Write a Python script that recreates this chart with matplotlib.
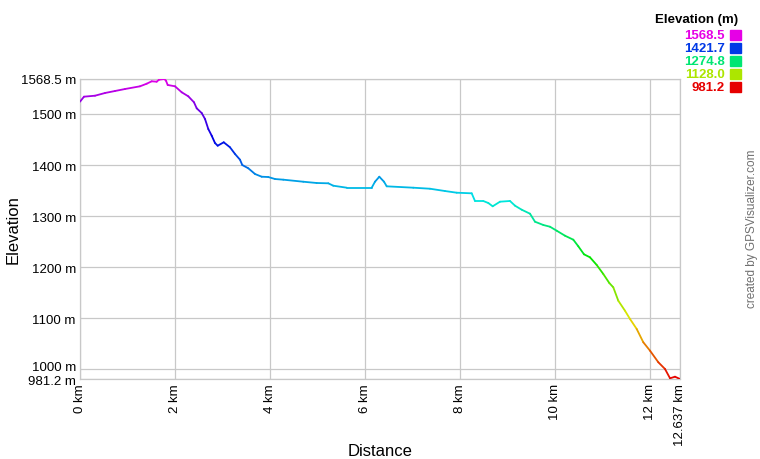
import numpy as np
import matplotlib
matplotlib.use('Agg')
import matplotlib.pyplot as plt
import matplotlib.transforms as mtrans
from matplotlib.collections import LineCollection
from matplotlib.colors import hsv_to_rgb

plt.rcParams['font.family'] = ['Liberation Sans', 'DejaVu Sans']

# perfil (km, m)
distancia = [0.000, 0.084, 0.316, 0.527, 0.737, 0.948, 1.264, 1.405, 1.510, 1.615,
             1.664, 1.775, 1.811, 1.847, 2.001, 2.142, 2.281, 2.401, 2.458, 2.563,
             2.633, 2.702, 2.774, 2.843, 2.900, 3.027, 3.159, 3.265, 3.370, 3.418,
             3.545, 3.686, 3.827, 3.966, 4.107, 4.282, 4.703, 4.985, 5.230, 5.335,
             5.617, 6.144, 6.213, 6.304, 6.403, 6.460, 7.020, 7.371, 7.687, 7.934,
             8.250, 8.319, 8.494, 8.600, 8.692, 8.846, 9.056, 9.162, 9.303, 9.478,
             9.583, 9.758, 9.899, 10.040, 10.215, 10.390, 10.495, 10.615, 10.741, 10.883,
             11.021, 11.148, 11.232, 11.337, 11.478, 11.584, 11.725, 11.864, 12.005, 12.180,
             12.321, 12.427, 12.532, 12.637]
elevacion = [1524.1, 1533.9, 1535.8, 1541.1, 1545.0, 1548.9, 1554.2, 1559.3, 1564.0, 1563.2,
             1567.1, 1568.5, 1565.2, 1556.8, 1554.2, 1542.5, 1534.6, 1522.9, 1511.1, 1501.9,
             1490.2, 1470.6, 1457.5, 1443.2, 1437.9, 1444.6, 1434.8, 1421.7, 1410.5, 1400.1,
             1393.7, 1382.5, 1377.2, 1376.6, 1372.7, 1371.4, 1367.4, 1364.9, 1364.3, 1359.6,
             1355.7, 1355.7, 1367.4, 1377.2, 1367.4, 1358.4, 1355.7, 1353.7, 1349.2, 1345.9,
             1344.7, 1329.7, 1329.7, 1325.7, 1319.3, 1328.3, 1329.7, 1320.5, 1312.6, 1304.8,
             1289.1, 1282.7, 1279.3, 1271.5, 1261.7, 1253.9, 1241.0, 1225.3, 1219.4, 1204.4,
             1186.8, 1169.1, 1160.7, 1134.5, 1114.9, 1098.7, 1079.1, 1053.1, 1036.7, 1014.0,
             1000.8, 982.6, 985.7, 981.2]

elev_min = 981.2
elev_max = 1568.5
dist_total = 12.637
ticks_x = [0, 2, 4, 6, 8, 10, 12, 12.637]
etiquetas_x = ['0 km', '2 km', '4 km', '6 km', '8 km', '10 km', '12 km', '12.637 km']
ticks_y = [981.2, 1000, 1100, 1200, 1300, 1400, 1500, 1568.5]
etiquetas_y = ['981.2 m', '1000 m', '1100 m', '1200 m', '1300 m', '1400 m', '1500 m', '1568.5 m']
leyenda = ['1568.5', '1421.7', '1274.8', '1128.0', '981.2']
niveles = [1568.5, 1421.7, 1274.8, 1128.0, 981.2]


def color_elev(e):
    # rojo (bajo) -> magenta (alto) recorriendo el tono
    f = (e - elev_min) / (elev_max - elev_min)
    f = min(max(f, 0), 1)
    return hsv_to_rgb([f * 300 / 360, 1.0, 0.9])


fig = plt.figure(figsize=(7.6, 4.6), dpi=100)
ax = fig.add_axes([80 / 760, 80 / 460, 600 / 760, 300 / 460])

x = np.array(distancia)
y = np.array(elevacion)
pts = np.column_stack([x, y]).reshape(-1, 1, 2)
segs = np.concatenate([pts[:-1], pts[1:]], axis=1)
colores = [color_elev((y[i] + y[i + 1]) / 2) for i in range(len(y) - 1)]
lc = LineCollection(segs, colors=colores, linewidths=1.3, capstyle='round',
                    joinstyle='round', zorder=3)
ax.add_collection(lc)

ax.set_xlim(0, dist_total)
ax.set_ylim(elev_min, elev_max)
ax.set_xticks(ticks_x)
ax.set_xticklabels(etiquetas_x, rotation=90, fontsize=9.5)
ax.set_yticks(ticks_y)
ax.set_yticklabels(etiquetas_y, fontsize=9.5)
ax.tick_params(length=0, pad=3)
ax.grid(True, color='#c8c8c8', linewidth=0.9)
for s in ax.spines.values():
    s.set_color('#c8c8c8')
    s.set_linewidth(0.9)
ax.set_axisbelow(True)

# separar las etiquetas de 981.2 y 1000 para que no choquen
labs = ax.get_yticklabels()
labs[0].set_transform(labs[0].get_transform() +
                      mtrans.ScaledTranslation(0, -1 / 100, fig.dpi_scale_trans))
labs[1].set_transform(labs[1].get_transform() +
                      mtrans.ScaledTranslation(0, 4 / 100, fig.dpi_scale_trans))

fig.text(380 / 760, 1 - 452 / 460, 'Distance', ha='center', va='center', fontsize=12)
fig.text(13 / 760, 1 - 230 / 460, 'Elevation', ha='center', va='center',
         fontsize=12, rotation=90)

# leyenda de colores
fig.text(738 / 760, 1 - 20 / 460, 'Elevation (m)', ha='right', va='center',
         fontsize=9.5, fontweight='bold')
for i, (txt, lv) in enumerate(zip(leyenda, niveles)):
    yy = 1 - (36 + i * 13.1) / 460
    c = color_elev(lv)
    fig.text(725 / 760, yy, txt, ha='right', va='center', fontsize=9.5,
             fontweight='bold', color=c)
    fig.patches.append(plt.Rectangle((730 / 760, yy - 5 / 460), 10.5 / 760, 10.5 / 460,
                                     transform=fig.transFigure, color=c, figure=fig))

fig.text(752 / 760, 1 - 229 / 460, 'created by GPSVisualizer.com', rotation=90,
         ha='center', va='center', fontsize=8.5, color='#707070')

plt.savefig('out.png', dpi=100)
